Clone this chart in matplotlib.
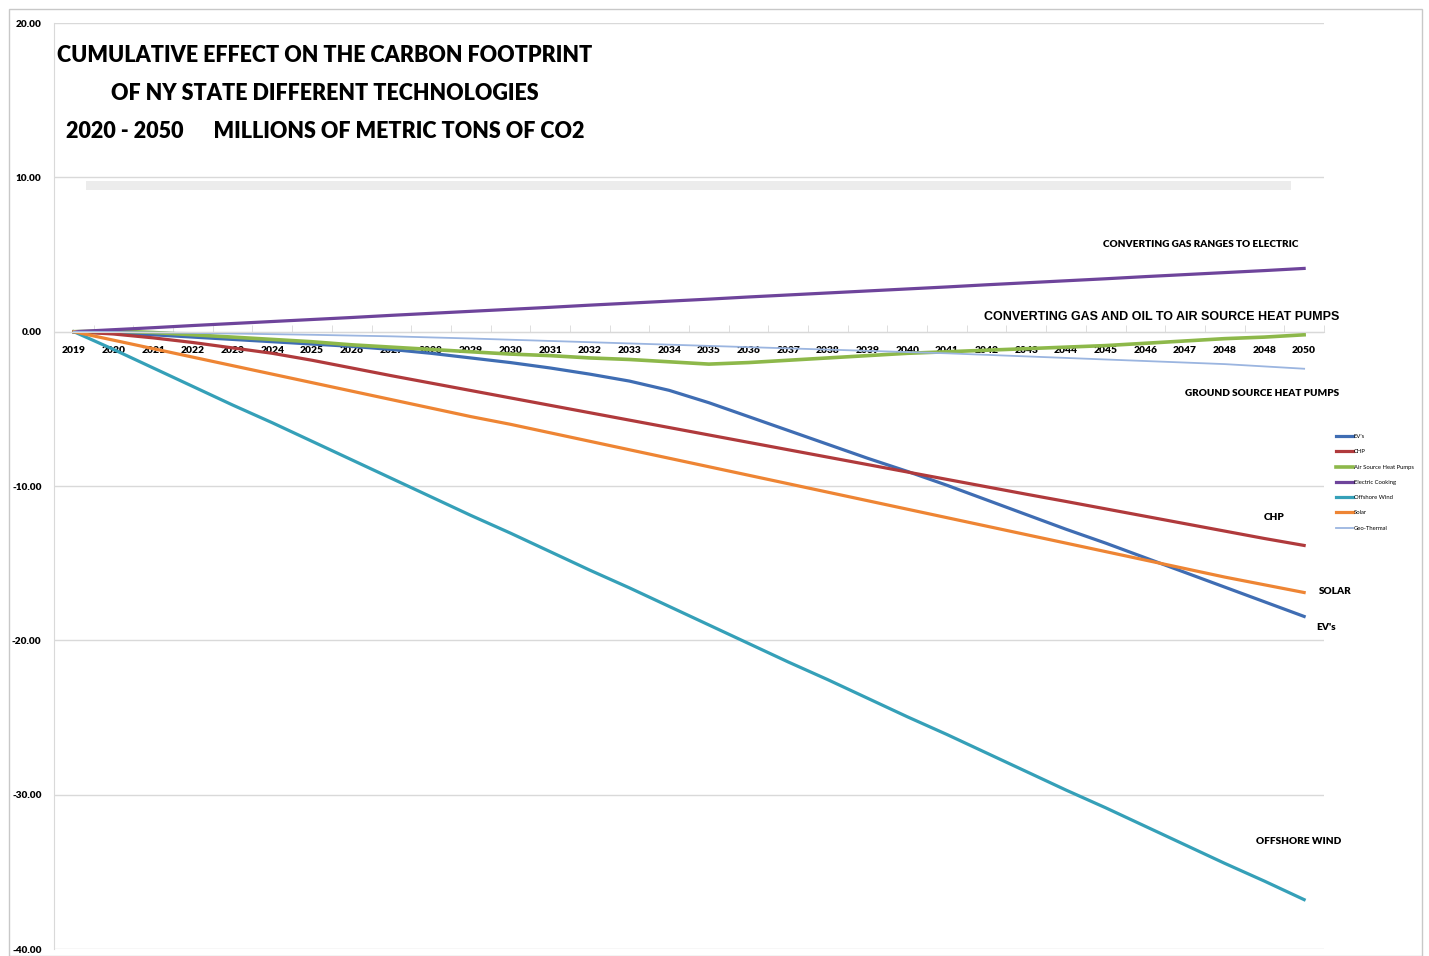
import matplotlib.pyplot as plt
from matplotlib.patches import Rectangle
from matplotlib.ticker import FormatStrFormatter

# x categories (the source chart really has 2048 twice)
years = ['2019', '2020', '2021', '2022', '2023', '2024', '2025', '2026', '2027', '2028',
         '2029', '2030', '2031', '2032', '2033', '2034', '2035', '2036', '2037', '2038',
         '2039', '2040', '2041', '2042', '2043', '2044', '2045', '2046', '2047', '2048',
         '2048', '2050']

# millions of metric tons of CO2
evs = [0, -0.1, -0.2, -0.35, -0.5, -0.65, -0.8, -0.95, -1.15, -1.4,
       -1.7, -2.0, -2.35, -2.75, -3.2, -3.8, -4.6, -5.5, -6.4, -7.3,
       -8.2, -9.05, -9.95, -10.9, -11.85, -12.8, -13.7, -14.65, -15.6, -16.55,
       -17.5, -18.45]
chp = [0, -0.15, -0.4, -0.7, -1.05, -1.4, -1.85, -2.35, -2.85, -3.33,
       -3.81, -4.29, -4.77, -5.25, -5.73, -6.21, -6.69, -7.17, -7.65, -8.13,
       -8.61, -9.09, -9.57, -10.05, -10.53, -11.0, -11.48, -11.96, -12.44, -12.92,
       -13.4, -13.85]
air_source = [0, 0.05, -0.05, -0.2, -0.35, -0.5, -0.65, -0.85, -1.0, -1.15,
              -1.3, -1.45, -1.55, -1.7, -1.8, -1.95, -2.1, -2.0, -1.85, -1.7,
              -1.55, -1.4, -1.3, -1.2, -1.1, -1.0, -0.9, -0.75, -0.6, -0.45,
              -0.35, -0.2]
cooking = [0, 0.13, 0.26, 0.4, 0.53, 0.66, 0.79, 0.92, 1.06, 1.19,
           1.32, 1.45, 1.58, 1.72, 1.85, 1.98, 2.11, 2.25, 2.38, 2.51,
           2.64, 2.77, 2.9, 3.04, 3.17, 3.3, 3.43, 3.57, 3.7, 3.83,
           3.96, 4.1]
offshore = [0, -1.15, -2.35, -3.55, -4.75, -5.9, -7.1, -8.3, -9.5, -10.7,
            -11.9, -13.05, -14.25, -15.45, -16.6, -17.8, -19.0, -20.2, -21.4, -22.55,
            -23.75, -24.95, -26.1, -27.3, -28.5, -29.7, -30.85, -32.05, -33.25, -34.45,
            -35.6, -36.8]
solar = [0, -0.55, -1.1, -1.65, -2.2, -2.75, -3.3, -3.85, -4.4, -4.95,
         -5.5, -6.0, -6.55, -7.1, -7.65, -8.2, -8.75, -9.3, -9.85, -10.4,
         -10.95, -11.5, -12.05, -12.6, -13.15, -13.7, -14.25, -14.8, -15.35, -15.9,
         -16.4, -16.9]
geo = [0, -0.02, -0.05, -0.08, -0.12, -0.16, -0.2, -0.25, -0.3, -0.37,
       -0.44, -0.52, -0.6, -0.68, -0.76, -0.84, -0.92, -1.0, -1.08, -1.16,
       -1.24, -1.32, -1.4, -1.5, -1.6, -1.7, -1.8, -1.9, -2.0, -2.1,
       -2.25, -2.4]

NARROW = 'Lato'

fig = plt.figure(figsize=(14.29, 9.56), dpi=100)
ax = fig.add_axes([0.0378, 0.0073, 0.8887, 0.9686])

x = list(range(len(years)))
ax.plot(x, evs, color='#3F6DB3', lw=2.3, label="EV's")
ax.plot(x, chp, color='#B03A3C', lw=2.3, label='CHP')
ax.plot(x, air_source, color='#8DB84A', lw=2.6, label='Air Source Heat Pumps')
ax.plot(x, cooking, color='#6E449B', lw=2.3, label='Electric Cooking')
ax.plot(x, offshore, color='#35A0B8', lw=2.3, label='Offshore Wind')
ax.plot(x, solar, color='#EE8534', lw=2.3, label='Solar')
ax.plot(x, geo, color='#9BB5E0', lw=1.3, label='Geo-Thermal')

ax.set_xlim(-0.5, len(years) - 0.5)
ax.set_ylim(-40, 20)
ax.set_yticks([20, 10, 0, -10, -20, -30, -40])
ax.yaxis.set_major_formatter(FormatStrFormatter('%.2f'))
ax.grid(axis='y', color='#d9d9d9', lw=1)
ax.set_axisbelow(True)
ax.axhspan(9.2, 9.75, xmin=0.025, xmax=0.974, color='#ececec', lw=0, zorder=0)

for s in ['top', 'right']:
    ax.spines[s].set_visible(False)
ax.spines['left'].set_color('#d9d9d9')
ax.spines['bottom'].set_position(('data', 0))
ax.spines['bottom'].set_color('#d9d9d9')

ax.set_xticks(x)
ax.set_xticklabels(years, fontfamily=NARROW, fontweight='heavy', fontsize=7.4)
ax.tick_params(axis='x', which='major', length=0, pad=10)
ax.set_xticks([i + 0.5 for i in range(-1, len(years))], minor=True)
ax.tick_params(axis='x', which='minor', direction='in', length=5, color='#d9d9d9')
ax.tick_params(axis='y', length=0, pad=9)
for lab in ax.get_yticklabels():
    lab.set_fontfamily(NARROW)
    lab.set_fontweight('heavy')
    lab.set_fontsize(7.2)

# title block
tkw = dict(ha='center', va='center', fontfamily=NARROW, fontweight='heavy', fontsize=15.5)
fig.text(325 / 1429, 1 - 55 / 956, 'CUMULATIVE EFFECT ON THE CARBON FOOTPRINT', **tkw)
fig.text(325 / 1429, 1 - 93 / 956, 'OF NY STATE DIFFERENT TECHNOLOGIES', **tkw)
fig.text(325 / 1429, 1 - 131 / 956, '2020 - 2050      MILLIONS OF METRIC TONS OF CO2', **tkw)

# line labels
lkw = dict(ha='center', va='center', fontfamily=NARROW, fontweight='heavy', fontsize=7.2)
fig.text(1201 / 1429, 1 - 245 / 956, 'CONVERTING GAS RANGES TO ELECTRIC', **lkw)
fig.text(1162 / 1429, 1 - 317 / 956, 'CONVERTING GAS AND OIL TO AIR SOURCE HEAT PUMPS',
         ha='center', va='center', fontfamily='Liberation Sans', fontweight='bold', fontsize=9)
fig.text(1262 / 1429, 1 - 394 / 956, 'GROUND SOURCE HEAT PUMPS', **lkw)
fig.text(1274 / 1429, 1 - 518 / 956, 'CHP', **lkw)
fig.text(1335 / 1429, 1 - 592 / 956, 'SOLAR', **lkw)
fig.text(1326 / 1429, 1 - 627 / 956, "EV's", **lkw)
fig.text(1299 / 1429, 1 - 841 / 956, 'OFFSHORE WIND', **lkw)

fig.legend(loc='upper left', bbox_to_anchor=(1333 / 1429, 1 - 431 / 956),
           frameon=False, prop={'family': NARROW, 'size': 4.2},
           handlelength=3, handletextpad=0.1, labelspacing=1.75, borderpad=0)

fig.patches.append(Rectangle((9 / 1429, 0), 1413 / 1429, 1 - 9 / 956,
                             transform=fig.transFigure, fill=False,
                             edgecolor='#c8c8c8', lw=1))

fig.savefig('out.png', dpi=100)
